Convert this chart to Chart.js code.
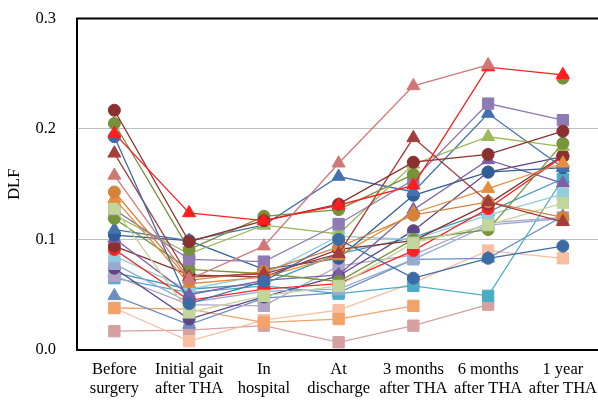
<!DOCTYPE html>
<html>
<head>
<meta charset="utf-8">
<script src="https://cdn.jsdelivr.net/npm/chart.js@4/dist/chart.umd.min.js"></script>
<style>
  body { margin: 0; background: #fff; }
  #wrap { width: 598px; height: 400px; }
</style>
</head>
<body>
<div id="wrap"><canvas id="dlfChart" width="598" height="400"></canvas></div>
<script>
// x categories and y ticks
const categories = [
  ['Before', 'surgery'],
  ['Initial gait', 'after THA'],
  ['In', 'hospital'],
  ['At', 'discharge'],
  ['3 months', 'after THA'],
  ['6 months', 'after THA'],
  ['1 year', 'after THA']
];
const yTicks = [0, 0.1, 0.2, 0.3];

// one array per patient (DLF at each time point), null = not measured
const redTri     = [0.196, 0.124, 0.117, 0.131, 0.149, 0.256, 0.249];
const pinkTri    = [0.158, 0.064, 0.094, 0.169, 0.239, 0.258, null];
const darkRedA   = [0.217, 0.098, 0.117, 0.132, 0.170, 0.177, 0.198];
const greenA     = [0.205, 0.091, 0.121, 0.127, 0.159, null, 0.246];
const blueA      = [0.193, 0.042, 0.062, 0.100, 0.065, 0.083, 0.094];
const darkRedTri = [0.178, 0.066, 0.069, 0.087, 0.192, 0.134, 0.116];
const orangeA    = [0.143, 0.063, 0.071, 0.093, 0.122, 0.134, 0.120];
const orangeTri  = [0.137, 0.060, 0.066, 0.085, 0.124, 0.146, 0.169];
const lightGreen = [0.128, 0.034, 0.049, 0.058, 0.097, 0.113, 0.133];
const purpleSq   = [0.127, 0.082, 0.080, 0.114, 0.154, 0.223, 0.208];
const greenB     = [0.119, 0.073, 0.069, 0.062, 0.100, 0.109, 0.187];
const greenTri   = [0.122, 0.087, 0.113, 0.105, 0.168, 0.193, 0.184];
const blueTri    = [0.109, 0.099, 0.113, 0.157, 0.143, 0.214, 0.165];
const blueB      = [0.104, 0.099, 0.073, 0.083, 0.140, 0.161, 0.165];
const purpleTri  = [0.101, 0.050, 0.063, 0.068, 0.127, 0.172, 0.151];
const darkRedB   = [0.094, 0.068, 0.066, 0.091, 0.099, 0.132, 0.176];
const redCirc    = [0.091, 0.045, 0.055, 0.060, 0.090, 0.128, 0.175];
const lightBlue  = [0.085, 0.055, 0.068, 0.103, 0.100, 0.122, 0.141];
const lavender   = [0.078, 0.043, 0.053, 0.055, 0.082, 0.113, 0.119];
const darkPurple = [0.074, 0.028, 0.048, 0.067, 0.108, 0.161, 0.175];
const lilac      = [0.067, 0.041, 0.040, 0.076, 0.086, 0.115, 0.120];
const tealSq     = [0.065, 0.052, 0.058, 0.051, 0.058, 0.049, 0.155];
const tealTri    = [0.070, 0.055, 0.060, 0.087, 0.102, 0.125, 0.155];
const blueTriB   = [0.049, 0.023, 0.047, 0.052, 0.082, 0.083, 0.121];
const orangeSq   = [0.038, 0.037, 0.025, 0.028, 0.040, null, null];
const peachSq    = [0.038, 0.008, 0.027, 0.036, 0.061, 0.090, 0.083];
const pinkSq     = [0.017, 0.018, 0.022, 0.007, 0.022, 0.041, null];

// drawing style per series (first one ends up on top)
const series = [
  [pinkTri, '#D07876', 'triangle'],
  [redTri, '#FF1E1E', 'triangle'],
  [darkRedA, '#8A312F', 'circle'],
  [greenA, '#76923B', 'circle'],
  [blueA, '#3C6CA6', 'circle'],
  [darkRedTri, '#A53E3B', 'triangle'],
  [orangeA, '#D5823A', 'circle'],
  [orangeTri, '#E68E3E', 'triangle'],
  [lightGreen, '#C2D59A', 'rect'],
  [purpleSq, '#8F7BB4', 'rect'],
  [greenB, '#77933C', 'circle'],
  [greenTri, '#9BBB59', 'triangle'],
  [blueTri, '#4472B0', 'triangle'],
  [blueB, '#2F5E95', 'circle'],
  [purpleTri, '#7C60A7', 'triangle'],
  [darkRedB, '#8A312F', 'circle'],
  [redCirc, '#FF2222', 'circle'],
  [lightBlue, '#93CCDC', 'rect'],
  [lavender, '#97AAD3', 'rect'],
  [darkPurple, '#5C4685', 'circle'],
  [lilac, '#B2A2C6', 'rect'],
  [tealSq, '#4BACC6', 'rect'],
  [tealTri, '#3B9DB8', 'triangle'],
  [blueTriB, '#6A8EC6', 'triangle'],
  [orangeSq, '#F2A26B', 'rect'],
  [peachSq, '#F7BEA2', 'rect'],
  [pinkSq, '#D5A0A0', 'rect']
];

const sizes = { circle: 6, triangle: 7.5, rect: 8 };

const datasets = series.map(([vals, color, shape]) => ({
  data: vals.map((v, i) => ({ x: i, y: v })),
  borderColor: color,
  backgroundColor: color,
  borderWidth: 1.3,
  pointStyle: shape,
  pointRadius: sizes[shape],
  pointBorderWidth: 1,
  pointBorderColor: color,
  pointBackgroundColor: color,
  spanGaps: false,
  tension: 0
}));

// black frame around the plot area (right side is off the canvas)
const frame = {
  id: 'frame',
  beforeDatasetsDraw(chart) {
    const { ctx, chartArea: a } = chart;
    ctx.save();
    ctx.strokeStyle = '#000';
    ctx.lineWidth = 2;
    ctx.strokeRect(a.left, a.top, a.right - a.left + 10, a.bottom - a.top);
    ctx.restore();
  }
};

Chart.defaults.font.family = "'Liberation Serif', 'Times New Roman', serif";
Chart.defaults.font.size = 16.5;
Chart.defaults.color = '#000';

new Chart('dlfChart', {
  type: 'line',
  data: { datasets },
  options: {
    responsive: false,
    animation: false,
    layout: { autoPadding: false, padding: { top: 18.5, right: 0, bottom: 0, left: 0 } },
    plugins: { legend: { display: false }, tooltip: { enabled: false } },
    scales: {
      x: {
        type: 'linear',
        min: -0.5,
        max: 6.47,
        afterBuildTicks: s => { s.ticks = categories.map((_, i) => ({ value: i })); },
        afterFit: s => { s.height = 50; s.paddingLeft = 0; s.paddingRight = 0; },
        grid: { display: false, drawTicks: false },
        border: { display: false },
        ticks: {
          autoSkip: false,
          maxRotation: 0,
          minRotation: 0,
          padding: 10,
          font: { lineHeight: 1.15 },
          callback: v => categories[v]
        }
      },
      y: {
        min: 0,
        max: 0.3,
        afterBuildTicks: s => { s.ticks = yTicks.map(v => ({ value: v })); },
        afterFit: s => { s.width = 77; s.paddingTop = 0; s.paddingBottom = 0; },
        grid: { color: '#BFBFBF', lineWidth: 1, drawTicks: false },
        border: { display: false },
        ticks: { padding: 21, callback: v => v.toFixed(1) },
        title: { display: true, text: 'DLF', padding: { top: 5, bottom: 0 } }
      }
    }
  },
  plugins: [frame]
});
</script>
</body>
</html>
